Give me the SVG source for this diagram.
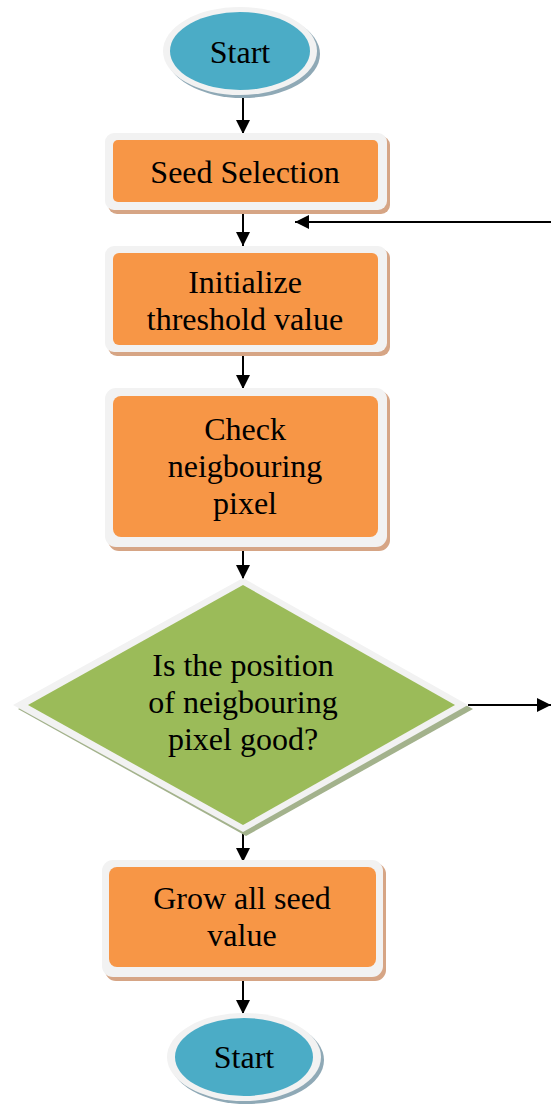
<svg xmlns="http://www.w3.org/2000/svg" width="551" height="1108" viewBox="0 0 551 1108">
<style>
.txt{font-family:"Liberation Serif","Times New Roman",serif;font-size:32px;fill:#000;text-anchor:middle}
.frame{fill:#F2F2F2}
.orange{fill:#F79646}
.oshadow{fill:#D6A585}
.blue{fill:#4BACC6}
.bshadow{fill:#8FA9B6}
.green{fill:#9BBB59}
.gshadow{fill:#A3B28C}
.conn{stroke:#000;stroke-width:2;fill:none;marker-end:url(#arrow)}
</style>
<defs>
<marker id="arrow" viewBox="0 0 14 14" refX="14" refY="7" markerWidth="14" markerHeight="14" markerUnits="userSpaceOnUse" orient="auto">
<path d="M0,0 L14,7 L0,14 z" fill="#000"/>
</marker>
</defs>
<rect width="551" height="1108" fill="#FFFFFF"/>

<g id="connectors">
<line class="conn" x1="243" y1="96" x2="243" y2="134"/>
<line class="conn" x1="243" y1="212" x2="243" y2="246"/>
<line class="conn" x1="243" y1="354" x2="243" y2="389"/>
<line class="conn" x1="243" y1="540" x2="243" y2="579"/>
<line class="conn" x1="243" y1="830" x2="243" y2="862"/>
<line class="conn" x1="243" y1="972" x2="243" y2="1014"/>
<line class="conn" x1="551" y1="222" x2="295" y2="222"/>
<line class="conn" x1="468" y1="705" x2="551" y2="705"/>
</g>

<g id="start-top">
<ellipse class="bshadow" cx="243" cy="54" rx="77" ry="44"/>
<ellipse class="frame" cx="240" cy="51" rx="77" ry="44"/>
<ellipse class="blue" cx="240" cy="51" rx="70" ry="39"/>
<text class="txt" x="240" y="63">Start</text>
</g>

<g id="seed-selection">
<rect class="oshadow" x="108" y="136" width="282" height="78" rx="9"/>
<rect class="frame" x="105" y="133" width="282" height="77" rx="9"/>
<rect class="orange" x="113" y="140" width="265" height="62" rx="5"/>
<text class="txt" x="245" y="183">Seed Selection</text>
</g>

<g id="initialize-threshold">
<rect class="oshadow" x="108" y="249" width="282" height="107" rx="9"/>
<rect class="frame" x="105" y="246" width="282" height="106" rx="9"/>
<rect class="orange" x="113" y="253" width="265" height="92" rx="6"/>
<text class="txt" x="245" y="293">Initialize</text>
<text class="txt" x="245" y="330">threshold value</text>
</g>

<g id="check-neighbouring">
<rect class="oshadow" x="108" y="391" width="282" height="160" rx="11"/>
<rect class="frame" x="105" y="388" width="282" height="159" rx="11"/>
<rect class="orange" x="113" y="396" width="265" height="141" rx="8"/>
<text class="txt" x="245" y="440">Check</text>
<text class="txt" x="245" y="477">neigbouring</text>
<text class="txt" x="245" y="514">pixel</text>
</g>

<g id="decision">
<polygon class="gshadow" points="246,583 473,709 246,836 18,709"/>
<polygon class="frame" points="243,578 468,705 243,832 13,705"/>
<polygon class="green" points="243,585 455,705 243,825 28,705"/>
<text class="txt" x="243" y="676">Is the position</text>
<text class="txt" x="243" y="713">of neigbouring</text>
<text class="txt" x="243" y="750">pixel good?</text>
</g>

<g id="grow-seed">
<rect class="oshadow" x="105" y="863" width="281" height="118" rx="11"/>
<rect class="frame" x="102" y="860" width="281" height="117" rx="11"/>
<rect class="orange" x="109" y="867" width="267" height="100" rx="8"/>
<text class="txt" x="242" y="909">Grow all seed</text>
<text class="txt" x="242" y="946">value</text>
</g>

<g id="start-bottom">
<ellipse class="bshadow" cx="247" cy="1060" rx="77" ry="44"/>
<ellipse class="frame" cx="244" cy="1057" rx="77" ry="44"/>
<ellipse class="blue" cx="244" cy="1057" rx="69" ry="39"/>
<text class="txt" x="244" y="1068">Start</text>
</g>
</svg>
